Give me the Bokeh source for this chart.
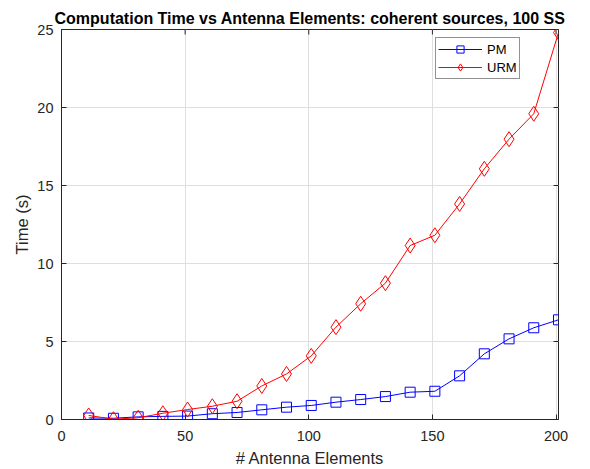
from bokeh.plotting import figure
from bokeh.models import Legend, LegendItem, FixedTicker, Range1d
from bokeh.embed import file_html
from bokeh.resources import INLINE

# Number of antenna elements
elements = [11, 21, 31, 41, 51, 61, 71, 81, 91, 101,
            111, 121, 131, 141, 151, 161, 171, 181, 191, 201]

# Computation time in seconds
pm_time = [0.10, 0.08, 0.17, 0.20, 0.22, 0.37, 0.45, 0.62, 0.79, 0.90,
           1.11, 1.28, 1.47, 1.75, 1.81, 2.80, 4.21, 5.17, 5.88, 6.39]
urm_time = [0.26, 0.02, 0.11, 0.40, 0.64, 0.85, 1.17, 2.15, 2.92, 4.08,
            5.92, 7.42, 8.74, 11.15, 11.81, 13.82, 16.07, 17.97, 19.60, 24.80]

x_ticks = [0, 50, 100, 150, 200]
y_ticks = [0, 5, 10, 15, 20, 25]

FONT = "Liberation Sans"
INK = "#262626"

W, H = 590, 469
BL, BR, BT, BB = 61, 32, 29, 50
X0, X1, Y0, Y1 = 0, 201, 0, 25

p = figure(width=W, height=H, output_backend="svg", toolbar_location=None,
           x_range=Range1d(X0, X1), y_range=Range1d(Y0, Y1),
           min_border_left=BL, min_border_right=BR, min_border_top=BT,
           min_border_bottom=BB,
           title="Computation Time vs Antenna Elements: coherent sources, 100 SS")

p.background_fill_color = "white"
p.border_fill_color = "white"
p.outline_line_color = INK
p.outline_line_width = 1

p.title.text_font = FONT
p.title.text_font_size = "16px"
p.title.text_font_style = "bold"
p.title.text_color = "black"
p.title.align = "center"
p.title.offset = 0
p.title.standoff = 6

for ax in (p.xaxis[0], p.yaxis[0]):
    ax.major_label_text_font = FONT
    ax.major_label_text_font_size = "14.5px"
    ax.major_label_text_color = INK
    ax.axis_label_text_font = FONT
    ax.axis_label_text_font_size = "16.5px"
    ax.axis_label_text_font_style = "normal"
    ax.axis_label_text_color = INK
    ax.axis_line_color = INK
    ax.major_tick_line_color = INK
    ax.major_tick_in = 5
    ax.major_tick_out = 0
    ax.minor_tick_line_color = None
    ax.axis_label_standoff = 5

p.xaxis[0].ticker = FixedTicker(ticks=x_ticks)
p.yaxis[0].ticker = FixedTicker(ticks=y_ticks)
p.xaxis[0].axis_label = "# Antenna Elements"
p.yaxis[0].axis_label = "Time (s)"
p.xaxis[0].major_label_standoff = 11
p.yaxis[0].major_label_standoff = 8
p.yaxis[0].axis_label_standoff = 3

# Inward tick marks mirrored on the top and right edges of the box
frame_w = W - BL - BR
frame_h = H - BT - BB
tick_dy = 5 * (Y1 - Y0) / frame_h
tick_dx = 5 * (X1 - X0) / frame_w
p.segment(x0=x_ticks, y0=[Y1] * len(x_ticks), x1=x_ticks,
          y1=[Y1 - tick_dy] * len(x_ticks), line_color=INK, line_width=1)
p.segment(x0=[X1] * len(y_ticks), y0=y_ticks, x1=[X1 - tick_dx] * len(y_ticks),
          y1=y_ticks, line_color=INK, line_width=1)

p.xgrid.ticker = FixedTicker(ticks=x_ticks)
p.ygrid.ticker = FixedTicker(ticks=y_ticks)
p.grid.grid_line_color = "#dfdfdf"
p.grid.grid_line_width = 1

pm_line = p.line(elements, pm_time, line_color="blue", line_width=1)
pm_mark = p.scatter(elements, pm_time, marker="square", size=10,
                    fill_color=None, line_color="blue", line_width=1)
urm_line = p.line(elements, urm_time, line_color="red", line_width=1)
urm_mark = p.scatter(elements, urm_time, marker="diamond", size=15,
                     fill_color=None, line_color="red", line_width=1)

legend = Legend(items=[
    LegendItem(label="PM", renderers=[pm_line, pm_mark]),
    LegendItem(label="URM", renderers=[urm_line, urm_mark]),
], location=(374, 340))
legend.label_text_font = FONT
legend.label_text_font_size = "13px"
legend.label_text_color = "black"
legend.border_line_color = INK
legend.border_line_width = 1
legend.glyph_width = 44
legend.glyph_height = 18
legend.label_standoff = 5
legend.padding = 2
legend.spacing = 0
legend.margin = 0
legend.label_height = 18
p.add_layout(legend, "center")

open("out.html", "w").write(file_html(p, INLINE))
